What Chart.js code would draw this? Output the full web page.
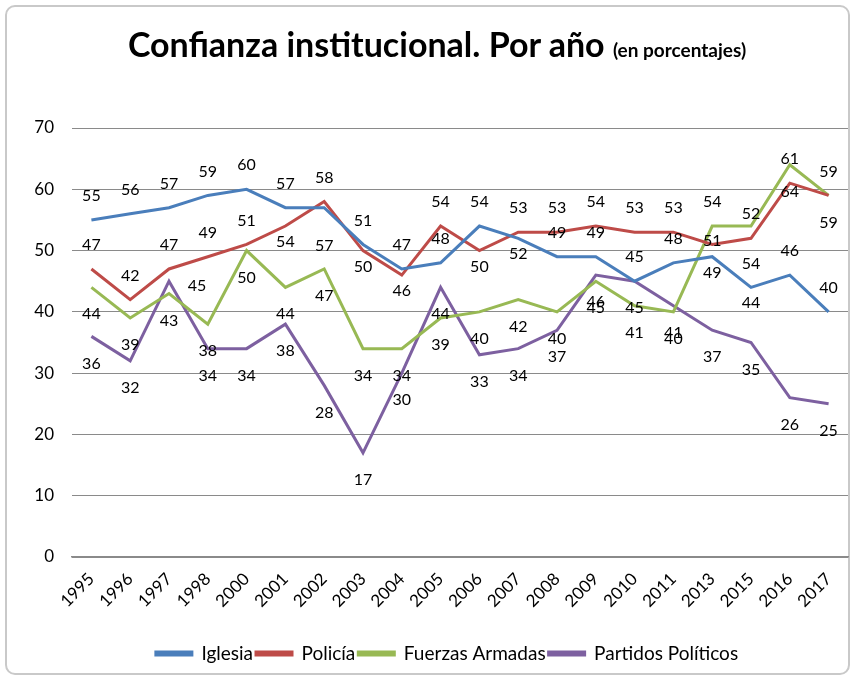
<!DOCTYPE html>
<html>
<head>
<meta charset="utf-8">
<script src="https://cdn.jsdelivr.net/npm/chart.js@4.4.1/dist/chart.umd.min.js"></script>
<style>
  body { margin: 0; background: #fff; }
  #wrap { position: relative; width: 857px; height: 679px; }
  #frame { position: absolute; left: 5px; top: 5px; width: 841px; height: 666px;
           border: 2px solid #c9c9c9; border-radius: 10px; }
  #title { position: absolute; left: 0; top: 23px; width: 874px; text-align: center;
           font-family: Lato, sans-serif; font-weight: bold; font-size: 34px; color: #000;
           white-space: nowrap; }
  #title span { font-size: 19px; }
  canvas { position: absolute; left: 0; top: 0; }
</style>
</head>
<body>
<div id="wrap">
  <div id="frame"></div>
  <canvas id="graph" width="857" height="679"></canvas>
  <div id="title">Confianza institucional. Por año <span>(en porcentajes)</span></div>
</div>
<script>
// Years on the x axis
const years = ["1995", "1996", "1997", "1998", "2000", "2001", "2002", "2003", "2004", "2005",
               "2006", "2007", "2008", "2009", "2010", "2011", "2013", "2015", "2016", "2017"];

// Series values (percent)
const iglesia   = [55, 56, 57, 59, 60, 57, 57, 51, 47, 48, 54, 52, 49, 49, 45, 48, 49, 44, 46, 40];
const policia   = [47, 42, 47, 49, 51, 54, 58, 50, 46, 54, 50, 53, 53, 54, 53, 53, 51, 52, 61, 59];
const fuerzas   = [44, 39, 43, 38, 50, 44, 47, 34, 34, 39, 40, 42, 40, 45, 41, 40, 54, 54, 64, 59];
const partidos  = [36, 32, 45, 34, 34, 38, 28, 17, 30, 44, 33, 34, 37, 46, 45, 41, 37, 35, 26, 25];

// Y axis ticks
const yTicks = [0, 10, 20, 30, 40, 50, 60, 70];

// where each value label sits relative to its point
// a = above, b = below, n = just below, f = far below, c = on the point, r = right
const placeIglesia  = ["a","a","a","a","a","a","f","a","a","a","a","n","a","a","a","a","n","n","a","a"];
const placePolicia  = ["a","a","a","a","a","n","a","n","n","a","n","a","a","a","a","a","c","a","a","a"];
const placeFuerzas  = ["b","b","b","b","b","b","b","b","b","b","b","b","b","b","b","b","a","f","b","b"];
const placePartidos = ["b","b","r","b","b","b","b","b","b","b","b","b","b","b","b","b","b","b","b","b"];

const labelShift = { a: [0, -24], b: [0, 27], n: [0, 16], f: [0, 38], c: [0, -4], r: [28, 5] };

// Draw the value labels next to the points
const valueLabels = {
    id: "valueLabels",
    afterDatasetsDraw(chart) {
        const ctx = chart.ctx;
        ctx.save();
        ctx.font = "16px Lato";
        ctx.fillStyle = "#000";
        ctx.textAlign = "center";
        ctx.textBaseline = "middle";
        chart.data.datasets.forEach((ds, i) => {
            const meta = chart.getDatasetMeta(i);
            meta.data.forEach((pt, j) => {
                const s = labelShift[ds.places[j]];
                ctx.fillText(String(ds.data[j]), pt.x + s[0], pt.y + s[1]);
            });
        });
        ctx.restore();
    }
};

// legend in the original sits a little right of centre
const nudgeLegend = {
    id: "nudgeLegend",
    afterLayout(chart) {
        if (chart.legend) {
            chart.legend.left += 16;
            chart.legend.right += 16;
        }
    }
};

const ctx = document.getElementById("graph").getContext("2d");

function line(label, data, color, places) {
    return {
        label: label,
        data: data,
        places: places,
        borderColor: color,
        backgroundColor: color,
        borderWidth: 3,
        pointRadius: 0,
        tension: 0
    };
}

new Chart(ctx, {
    type: "line",
    data: {
        labels: years,
        datasets: [
            line("Iglesia", iglesia, "#4a7ebb", placeIglesia),
            line("Policía", policia, "#be4b48", placePolicia),
            line("Fuerzas Armadas", fuerzas, "#98b954", placeFuerzas),
            line("Partidos Políticos", partidos, "#7d60a0", placePartidos)
        ]
    },
    options: {
        responsive: false,
        animation: false,
        layout: { padding: { left: 14, right: 9, top: 128, bottom: 6 } },
        scales: {
            x: {
                offset: true,
                grid: { display: false },
                border: { display: true, color: "#8a8a8a", width: 1.5 },
                ticks: {
                    autoSkip: false, minRotation: 45, maxRotation: 45,
                    font: { family: "Lato", size: 17 }, color: "#000", padding: 4
                },
                afterFit: s => { s.height = 84; }
            },
            y: {
                min: 0, max: 70,
                afterBuildTicks: s => { s.ticks = yTicks.map(v => ({ value: v })); },
                grid: { color: "#8a8a8a", lineWidth: 1, drawTicks: false },
                border: { display: false },
                ticks: { font: { family: "Lato", size: 17 }, color: "#000", padding: 18 },
                afterFit: s => { s.width = 58; }
            }
        },
        plugins: {
            title: { display: false },
            tooltip: { enabled: false },
            legend: {
                position: "bottom",
                labels: {
                    boxWidth: 36, boxHeight: 3, padding: 3,
                    font: { family: "Lato", size: 19 }, color: "#000"
                }
            }
        }
    },
    plugins: [valueLabels, nudgeLegend]
});
</script>
</body>
</html>
